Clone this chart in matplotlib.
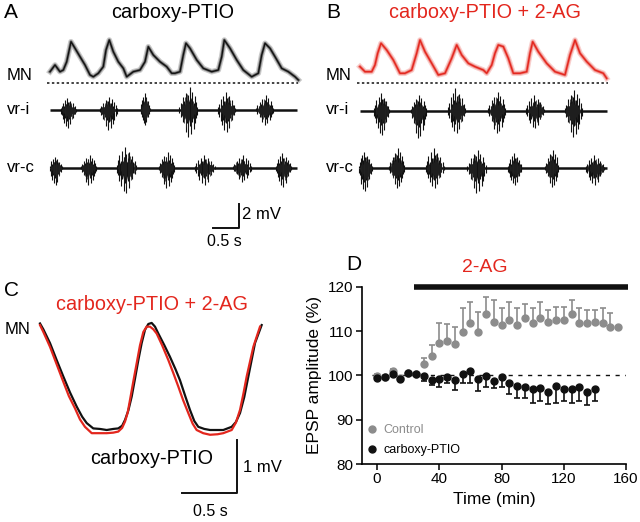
import numpy as np
import matplotlib
matplotlib.use("Agg")
import matplotlib.pyplot as plt
from matplotlib.lines import Line2D

plt.rcParams['font.family'] = ['Liberation Sans', 'DejaVu Sans']

W, H = 640, 522
RED = '#e3261d'
GRAY = '#8c8c8c'

# ---------------- data ----------------
# Panel A: MN trace (time s, mV above dotted baseline)
mnA_t = [0.0, 0.096, 0.192, 0.256, 0.321, 0.404, 0.481, 0.577, 0.673, 0.769, 0.833, 0.929,
         1.025, 1.077, 1.140, 1.217, 1.313, 1.410, 1.475, 1.602, 1.731, 1.827, 1.890, 1.987,
         2.115, 2.244, 2.340, 2.404, 2.500, 2.563, 2.615, 2.692, 2.821, 2.948, 3.110, 3.237,
         3.302, 3.352, 3.462, 3.590, 3.717, 3.879, 4.006, 4.071, 4.135, 4.231, 4.327, 4.456,
         4.583, 4.712, 4.775]
mnA_v = [0.90, 1.46, 0.90, 1.04, 1.73, 3.40, 2.85, 2.15, 1.46, 0.63, 0.48, 0.77,
         1.32, 2.71, 3.54, 2.57, 1.73, 1.18, 0.48, 0.90, 1.04, 1.73, 2.98, 2.29,
         1.73, 1.32, 0.77, 0.77, 0.90, 2.29, 3.27, 2.85, 1.88, 1.18, 0.90, 1.04,
         2.15, 3.54, 2.85, 1.88, 1.04, 0.48, 0.77, 2.29, 3.27, 2.85, 2.15, 1.18,
         0.90, 0.48, 0.21]
# Panel B: MN trace
mnB_t = [0.0, 0.096, 0.225, 0.288, 0.340, 0.404, 0.513, 0.640, 0.769, 0.865, 0.994, 1.090,
         1.154, 1.250, 1.379, 1.506, 1.635, 1.763, 1.860, 1.956, 2.083, 2.212, 2.371, 2.437,
         2.533, 2.596, 2.660, 2.756, 2.852, 2.948, 3.077, 3.206, 3.269, 3.321, 3.429, 3.590,
         3.750, 3.942, 4.038, 4.135, 4.231, 4.360, 4.519, 4.679, 4.744]
mnB_v = [1.36, 0.94, 0.94, 1.50, 2.48, 3.31, 2.75, 1.92, 0.81, 0.81, 1.08, 2.48,
         3.58, 2.61, 1.64, 0.67, 0.81, 2.06, 3.17, 2.33, 1.64, 1.36, 1.08, 0.81,
         1.50, 2.48, 3.17, 3.03, 2.06, 0.81, 0.81, 0.94, 2.48, 3.44, 2.61, 1.64,
         0.94, 0.67, 2.33, 3.58, 2.48, 1.78, 1.08, 0.81, 0.39]

# ventral root bursts: centre (s), width (s), max up (mV), max down (mV)
vriA_c = [0.35, 1.12, 1.83, 2.66, 3.40, 4.13]
vriA_w = [0.29, 0.33, 0.17, 0.35, 0.33, 0.33]
vriA_up = [1.00, 1.10, 1.40, 1.90, 1.50, 1.25]
vriA_dn = [1.50, 1.67, 1.25, 2.25, 1.83, 1.25]
vrcA_c = [0.11, 0.74, 1.47, 2.24, 2.98, 3.69, 4.49]
vrcA_w = [0.23, 0.29, 0.38, 0.29, 0.38, 0.35, 0.29]
vrcA_up = [0.92, 1.06, 1.75, 1.33, 1.06, 1.06, 1.19]
vrcA_dn = [1.44, 1.44, 2.14, 1.72, 1.44, 1.17, 1.58]
vriB_c = [0.42, 1.12, 1.86, 2.63, 3.37, 4.10]
vriB_w = [0.29, 0.29, 0.33, 0.33, 0.35, 0.33]
vriB_up = [1.44, 1.31, 1.86, 1.58, 1.31, 1.72]
vriB_dn = [2.03, 2.31, 1.89, 1.89, 1.47, 2.17]
vrcB_c = [0.10, 0.71, 1.44, 2.24, 2.98, 3.69, 4.52]
vrcB_w = [0.25, 0.29, 0.35, 0.35, 0.25, 0.25, 0.35]
vrcB_up = [1.39, 1.67, 1.67, 1.53, 1.25, 1.53, 1.11]
vrcB_dn = [1.94, 1.67, 1.67, 2.08, 1.39, 1.53, 1.39]
# relative spike heights across a typical burst
burst_up_profile = [0.15, 0.35, 0.6, 0.3, 0.8, 0.5, 1.0, 0.65, 0.45, 0.75, 0.4, 0.55, 0.25, 0.3, 0.12]
burst_dn_profile = [0.2, 0.3, 0.5, 0.7, 0.45, 0.9, 0.6, 1.0, 0.5, 0.8, 0.35, 0.45, 0.2, 0.25, 0.1]

# Panel C: averaged MN cycles (s, mV above trough)
cK_t = [0.0, 0.030, 0.090, 0.150, 0.210, 0.270, 0.331, 0.380, 0.421, 0.480, 0.540, 0.601, 0.660,
        0.705, 0.740, 0.766, 0.796, 0.826, 0.856, 0.886, 0.916, 0.946, 0.976, 1.006, 1.036,
        1.066, 1.120, 1.171, 1.220, 1.261, 1.310, 1.351, 1.390, 1.426, 1.480, 1.532, 1.600,
        1.651, 1.727, 1.765, 1.802, 1.840, 1.877, 1.937, 1.997]
cK_v = [2.01, 1.90, 1.64, 1.32, 1.01, 0.71, 0.44, 0.25, 0.13, 0.03, 0.02, 0.0, 0.02,
        0.03, 0.08, 0.19, 0.37, 0.63, 0.97, 1.32, 1.64, 1.89, 2.00, 2.02, 1.95,
        1.82, 1.60, 1.38, 1.15, 0.94, 0.63, 0.38, 0.17, 0.06, 0.02, 0.0, 0.0,
        0.0, 0.06, 0.15, 0.32, 0.62, 1.01, 1.64, 1.98]
cR_t = [0.0, 0.030, 0.090, 0.150, 0.210, 0.260, 0.315, 0.360, 0.405, 0.466, 0.530, 0.601, 0.660,
        0.705, 0.740, 0.766, 0.790, 0.811, 0.841, 0.871, 0.901, 0.931, 0.961, 0.991, 1.021,
        1.051, 1.100, 1.156, 1.200, 1.246, 1.290, 1.336, 1.375, 1.411, 1.470, 1.532, 1.600,
        1.651, 1.727, 1.765, 1.802, 1.832, 1.862, 1.922, 1.982]
cR_v = [1.98, 1.85, 1.57, 1.24, 0.91, 0.64, 0.41, 0.20, 0.06, -0.06, -0.06, -0.06, -0.05,
        -0.03, 0.04, 0.16, 0.33, 0.57, 0.92, 1.26, 1.60, 1.85, 1.95, 1.95, 1.90,
        1.82, 1.60, 1.32, 1.08, 0.82, 0.56, 0.32, 0.12, 0.0, -0.06, -0.09, -0.08,
        -0.06, 0.0, 0.14, 0.38, 0.68, 1.01, 1.57, 1.95]

# Panel D: EPSP amplitude (%)
ctrl_t = list(range(0, 160, 5))
ctrl_m = [99.8, 99.6, 101.0, 99.4, 100.5, 100.2, 102.5, 104.4, 107.4, 107.7, 107.1, 109.7,
          111.7, 109.8, 113.8, 112.1, 111.3, 112.6, 111.4, 113.0, 111.9, 113.0, 112.0, 112.5,
          112.6, 113.8, 111.7, 111.7, 112.0, 111.9, 110.8, 110.9]
ctrl_top = [100.2, 100.0, 101.4, 99.8, 100.8, 100.6, 104.0, 106.8, 111.9, 111.6, 110.8, 115.1,
            116.6, 114.4, 117.7, 117.1, 115.3, 116.6, 115.3, 116.2, 115.1, 116.5, 114.8, 115.5,
            115.5, 117.1, 115.3, 114.7, 114.7, 115.2, 114.0, 110.9]
ptio_t = list(range(0, 145, 5))
ptio_m = [99.5, 99.6, 100.2, 99.2, 100.6, 100.2, 99.9, 99.0, 99.2, 99.7, 99.0, 100.3,
          101.0, 99.1, 99.9, 98.7, 99.7, 98.2, 97.7, 97.4, 97.0, 97.1, 96.3, 97.6,
          96.9, 96.9, 97.4, 96.2, 96.9]
ptio_bot = [99.3, 99.1, 99.9, 98.9, 100.4, 100.0, 98.7, 97.8, 97.3, 98.2, 96.8, 98.3,
            98.3, 96.5, 97.3, 97.1, 97.4, 95.7, 95.0, 94.8, 93.8, 94.2, 93.5, 93.7,
            94.3, 93.7, 94.2, 93.2, 94.3]
drug_start, drug_end = 24, 161
x_ticks = [0, 40, 80, 120, 160]
y_ticks = [80, 90, 100, 110, 120]

# ---------------- figure ----------------
fig = plt.figure(figsize=(W / 100, H / 100), dpi=100)


def px_axes(x0, y0, x1, y1, ox, oy, ppx, ppy):
    """axes covering pixel box; data origin at pixel (ox, oy), scale ppx px/unit, ppy px/unit"""
    ax = fig.add_axes([x0 / W, 1 - y1 / H, (x1 - x0) / W, (y1 - y0) / H])
    ax.set_xlim((x0 - ox) / ppx, (x1 - ox) / ppx)
    ax.set_ylim((oy - y1) / ppy, (oy - y0) / ppy)
    ax.axis('off')
    return ax


def T(x, y, s, **kw):
    kw.setdefault('ha', 'left')
    kw.setdefault('va', 'center')
    fig.text(x / W, 1 - y / H, s, **kw)


def draw_mn(ax, t, v, color):
    ax.plot(t, v, color=color, lw=4.0, alpha=0.22, solid_joinstyle='round')
    ax.plot(t, v, color=color, lw=2.2, alpha=0.45, solid_joinstyle='round')
    ax.plot(t, v, color=color, lw=1.0)


def draw_vr(ax, base, centers, widths, ups, dns, t_end):
    ax.plot([0, t_end], [base, base], color='#111111', lw=1.8, solid_capstyle='butt')
    n = len(burst_up_profile)
    for k, (c, w, u, d) in enumerate(zip(centers, widths, ups, dns)):
        up = np.array(burst_up_profile)
        dn = np.array(burst_dn_profile)
        if k % 2:
            up, dn = up[::-1], dn[::-1]
        xs = np.linspace(c - w / 2, c + w / 2, n)
        xs2 = np.linspace(c - 0.42 * w, c + 0.42 * w, n)
        ax.vlines(xs, base, base + u * up, color='#111111', lw=0.8)
        ax.vlines(xs, base - d * dn, base, color='#111111', lw=0.8)
        ax.vlines(xs2, base - 0.7 * d * dn[::-1], base + 0.7 * u * up[::-1],
                  color='#222222', lw=0.7, alpha=0.8)
        ax.fill_between(xs[2:-2], base - 0.5 * d * dn[2:-2], base + 0.5 * u * up[2:-2],
                        color='#111111', lw=0)


PPS = 52.0   # px per second (A, B)
PPMV = 12.0  # px per mV (A, B)

# Panel A
axA = px_axes(40, 25, 310, 250, 50, 82.5, PPS, PPMV)
draw_mn(axA, mnA_t, mnA_v, '#111111')
axA.plot([-0.06, 4.76], [0, 0], color='#111111', lw=1.1, ls=(0, (1.6, 1.6)))
draw_vr(axA, -2.29, vriA_c, vriA_w, vriA_up, vriA_dn, 4.75)
draw_vr(axA, -7.10, vrcA_c, vrcA_w, vrcA_up, vrcA_dn, 4.75)
# scale bar 0.5 s / 2 mV
sb_t, sb_v = 0.5, 2.0
axA.plot([3.635 - sb_t, 3.635, 3.635], [-12.1, -12.1, -12.1 + sb_v], color='#111111', lw=1.4)

# Panel B
axB = px_axes(350, 25, 620, 250, 360, 83, PPS, PPMV)
draw_mn(axB, mnB_t, mnB_v, RED)
axB.plot([-0.06, 4.76], [0, 0], color='#111111', lw=1.1, ls=(0, (1.6, 1.6)))
draw_vr(axB, -2.31, vriB_c, vriB_w, vriB_up, vriB_dn, 4.75)
draw_vr(axB, -7.10, vrcB_c, vrcB_w, vrcB_up, vrcB_dn, 4.75)

# Panel C
axC = px_axes(30, 300, 300, 500, 40, 430, 111.0, 53.0)
axC.plot(cK_t, cK_v, color='#111111', lw=1.6, solid_joinstyle='round')
axC.plot(cR_t, cR_v, color=RED, lw=1.6, solid_joinstyle='round')
axC.plot([1.777 - 0.5, 1.777, 1.777], [-1.19, -1.19, -0.19], color='#111111', lw=1.4)

# Panel D
axD = fig.add_axes([362 / W, 1 - 464 / H, (626 - 362) / W, (464 - 286.7) / H])
axD.set_xlim(-9.7, 160)
axD.set_ylim(80, 120)
for s in ['top', 'right']:
    axD.spines[s].set_visible(False)
for s in ['left', 'bottom']:
    axD.spines[s].set_linewidth(1.2)
axD.set_xticks(x_ticks)
axD.set_yticks(y_ticks)
axD.tick_params(length=4, width=1.1, labelsize=11, pad=2)
axD.plot([-3, 160], [100, 100], color='#111111', lw=1.0, ls=(0, (3, 4)))
c_err = np.array(ctrl_top) - np.array(ctrl_m)
axD.errorbar(ctrl_t, ctrl_m, yerr=[np.zeros_like(c_err), c_err], fmt='o', color=GRAY,
             ms=5, elinewidth=1.2, capsize=2.5, capthick=1.2, clip_on=False, zorder=3)
p_err = np.array(ptio_m) - np.array(ptio_bot)
axD.errorbar(ptio_t, ptio_m, yerr=[p_err, np.zeros_like(p_err)], fmt='o', color='#111111',
             ms=5, elinewidth=1.2, capsize=2.5, capthick=1.2, clip_on=False, zorder=4)
axD.plot([drug_start, drug_end], [120, 120], color='#111111', lw=4, clip_on=False,
         solid_capstyle='butt')
axD.set_xlabel('Time (min)', fontsize=12.5, labelpad=4)
axD.set_ylabel('EPSP amplitude (%)', fontsize=12.5)
axD.yaxis.set_label_coords(-0.15, 0.5)
hC = Line2D([], [], ls='none', marker='o', color=GRAY, ms=5)
hP = Line2D([], [], ls='none', marker='o', color='#111111', ms=5)
leg = axD.legend([hC, hP], ['Control', 'carboxy-PTIO'], loc='lower left',
                 bbox_to_anchor=(-0.005, 0.01), frameon=False, fontsize=9,
                 handlelength=0.8, handletextpad=0.5, labelspacing=0.6, borderpad=0)
leg.get_texts()[0].set_color(GRAY)

# ---------------- texts ----------------
T(4, 13, 'A', fontsize=15)
T(173, 13, 'carboxy-PTIO', fontsize=14.3, ha='center')
T(7, 76, 'MN', fontsize=12)
T(7, 109, 'vr-i', fontsize=12)
T(7, 167, 'vr-c', fontsize=12)
T(242, 215, '2 mV', fontsize=12)
T(224, 242, '0.5 s', fontsize=11.5, ha='center')

T(326, 13, 'B', fontsize=15)
T(485, 13, 'carboxy-PTIO + 2-AG', fontsize=14.3, ha='center', color=RED)
T(326, 76, 'MN', fontsize=12)
T(326, 109, 'vr-i', fontsize=12)
T(326, 167, 'vr-c', fontsize=12)

T(4, 291, 'C', fontsize=15)
T(152, 305, 'carboxy-PTIO + 2-AG', fontsize=14.3, ha='center', color=RED)
T(5, 330, 'MN', fontsize=12)
T(152, 458, 'carboxy-PTIO', fontsize=14.3, ha='center')
T(243, 468, '1 mV', fontsize=12)
T(210, 512, '0.5 s', fontsize=11.5, ha='center')

T(346, 264, 'D', fontsize=15)
T(485, 268, '2-AG', fontsize=14, ha='center', color=RED)

fig.savefig('out.png', dpi=100)
